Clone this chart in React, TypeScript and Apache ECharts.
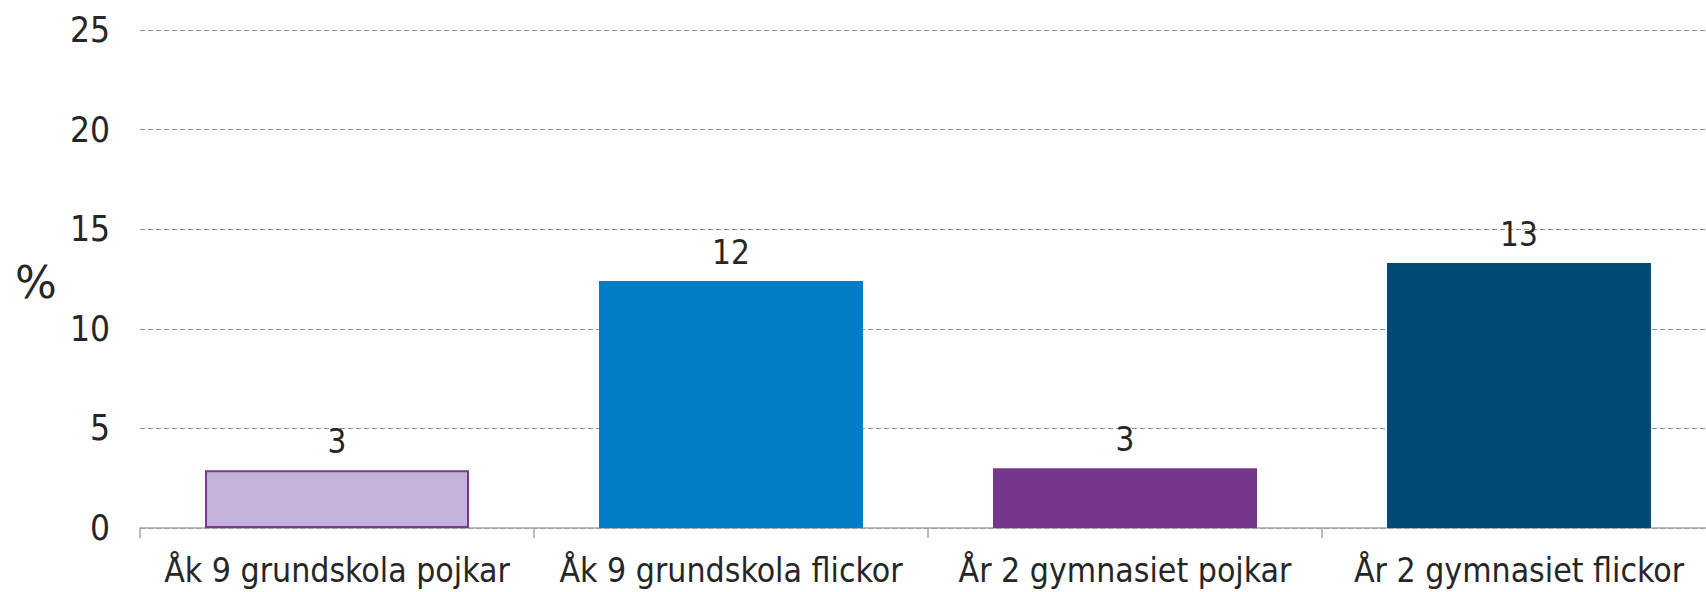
import React, { useEffect, useRef } from "react";
import * as echarts from "echarts";

const categories = [
  "Åk 9 grundskola pojkar",
  "Åk 9 grundskola flickor",
  "År 2 gymnasiet pojkar",
  "År 2 gymnasiet flickor",
];
const values = [2.9, 12.4, 3.0, 13.3];
const barColors = ["#C4B3D8", "#007DC6", "#76368A", "#004A77"];
const barBorders = ["#773A8F", "#007DC6", "#76368A", "#004A77"];
const yTicks = { min: 0, max: 25, interval: 5 };
const yAxisName = "%";

const FONT = "'DejaVu Sans Condensed', 'DejaVu Sans', sans-serif";

export default function App() {
  const ref = useRef<HTMLDivElement>(null);
  useEffect(() => {
    if (!ref.current) return;
    const chart = echarts.init(ref.current, null, { renderer: "svg" });
    chart.setOption({
      animation: false,
      backgroundColor: "#ffffff",
      textStyle: { fontFamily: FONT },
      grid: {
        left: 140,
        top: 30,
        height: 498,
        width: 1576,
        containLabel: false,
        outerBoundsMode: "none",
      },
      graphic: [
        {
          type: "text",
          left: 15,
          top: 260,
          style: { text: yAxisName, fontSize: 44, fill: "#262626", fontFamily: "'DejaVu Sans', sans-serif" },
        },
      ],
      xAxis: {
        type: "category",
        data: categories,
        axisLine: { show: true, lineStyle: { color: "#A6A6A6", width: 1.5 } },
        axisTick: { show: true, length: 10, inside: false, lineStyle: { color: "#A6A6A6", width: 1.5 } },
        axisLabel: { color: "#262626", fontSize: 33.5, margin: 25, fontFamily: FONT, interval: 0 },
      },
      yAxis: {
        type: "value",
        min: yTicks.min,
        max: yTicks.max,
        interval: yTicks.interval,
        axisLine: { show: false },
        axisTick: { show: false },
        axisLabel: { color: "#262626", fontSize: 35, margin: 30, fontFamily: FONT },
        splitLine: {
          show: true,
          lineStyle: { color: "#8C8C8C", width: 1, type: [5, 3] },
        },
      },
      series: [
        {
          type: "bar",
          barCategoryGap: "33%",
          data: values.map((v, i) => ({
            value: v,
            itemStyle: {
              color: barColors[i],
              borderColor: barBorders[i],
              borderWidth: i === 0 ? 2 : 0,
            },
          })),
          label: {
            show: true,
            position: "top",
            distance: 12,
            fontSize: 33,
            color: "#262626",
            fontFamily: FONT,
            formatter: (p: any) => String(Math.round(p.value)),
          },
        },
      ],
    });
    return () => chart.dispose();
  }, []);
  return (
    <div
      ref={ref}
      style={{ position: "fixed", left: 0, top: 0, width: 1706, height: 592 }}
    />
  );
}
